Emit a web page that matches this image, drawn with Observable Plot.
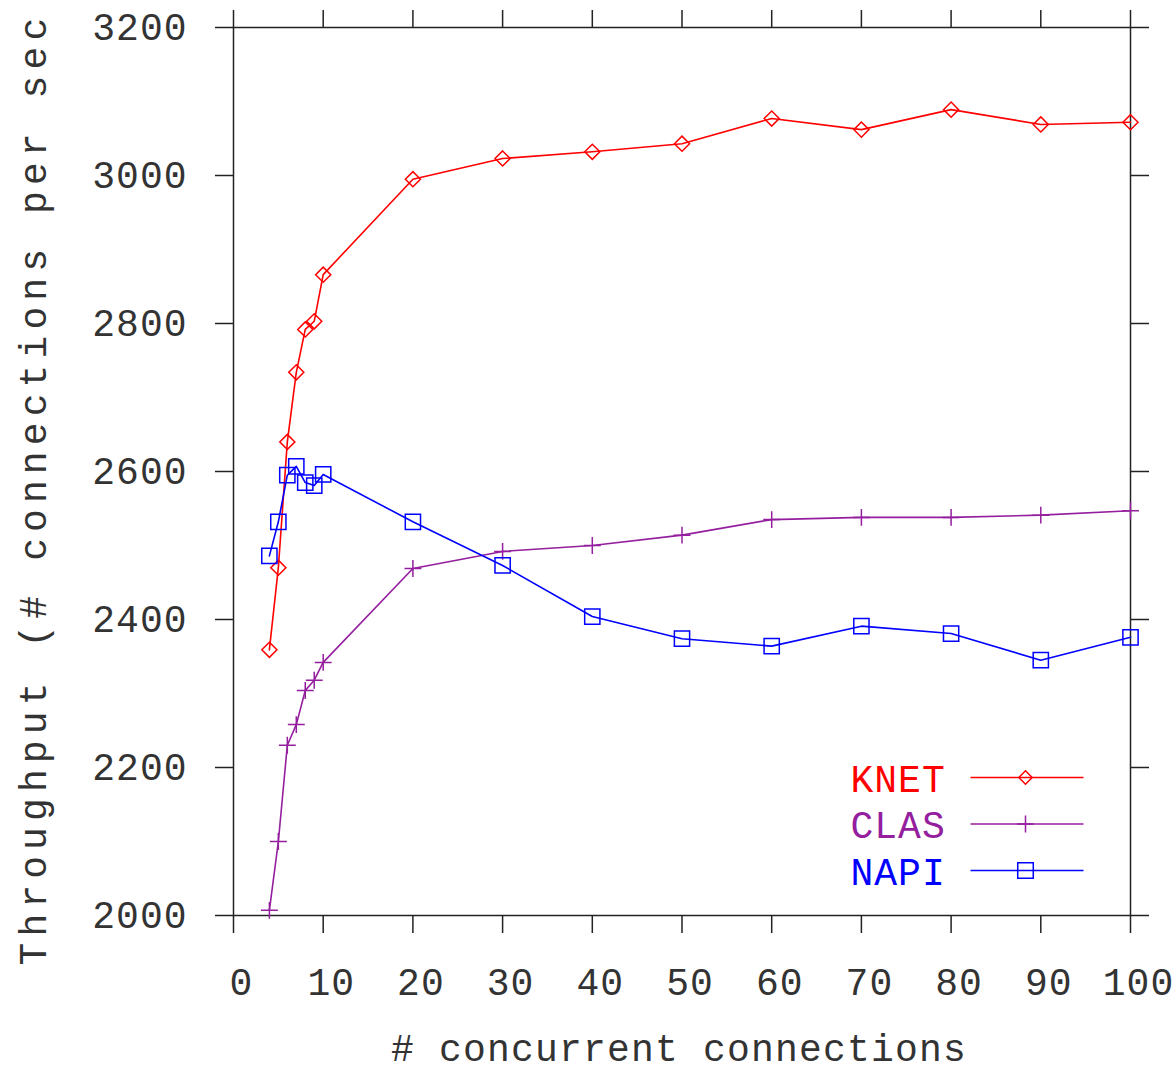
<!DOCTYPE html>
<html><head><meta charset="utf-8">
<script src="https://cdn.jsdelivr.net/npm/d3@7"></script>
<script src="https://cdn.jsdelivr.net/npm/@observablehq/plot@0.6"></script>
<style>
body{margin:0;background:#fff;}
#chart svg{display:block;}
</style></head><body><div id="chart"></div>
<script>
// ---- data ----
const connections = [4, 5, 6, 7, 8, 9, 10, 20, 30, 40, 50, 60, 70, 80, 90, 100];
const knet = [2359, 2470, 2640, 2734, 2792, 2803, 2866, 2995, 3023, 3032, 3043, 3077, 3062, 3089, 3069, 3072];
const clas = [2007, 2100, 2230, 2258, 2304, 2318, 2342, 2469, 2492, 2500, 2514, 2535, 2538, 2538, 2541, 2547];
const napi = [2486, 2532, 2595, 2607, 2585, 2581, 2596, 2532, 2473, 2404, 2374, 2364, 2391, 2381, 2345, 2376];
const seriesNames = ["KNET", "CLAS", "NAPI"];
const xTicks = [0, 10, 20, 30, 40, 50, 60, 70, 80, 90, 100];
const yTicks = [2000, 2200, 2400, 2600, 2800, 3000, 3200];
const xTitle = "# concurrent connections";
const yTitle = "Throughput (# connections per sec";

// ---- styles ----
const colors = {KNET: "#ff0000", CLAS: "#941e9e", NAPI: "#0000ff"};
const symbols = {KNET: "diamond2", CLAS: "plus", NAPI: "square2"};
const radii = {KNET: 6.8, CLAS: 5.5, NAPI: 9.7};
const legendRadii = {KNET: 6.0, CLAS: 5.5, NAPI: 9.9};
const ink = "#333";

const values = {KNET: knet, CLAS: clas, NAPI: napi};
const rows = seriesNames.flatMap(s => connections.map((c, i) => ({series: s, x: c, y: values[s][i]})));

// legend key line as a custom symbol (horizontal segment around the marker)
const keyLine = {draw(ctx) { ctx.moveTo(-55, 0); ctx.lineTo(58, 0); }};

const marks = [];
marks.push(Plot.frame({stroke: "#222", strokeWidth: 1.5}));
marks.push(Plot.axisY({anchor: "left", ticks: yTicks, tickFormat: d3.format("d"), tickSize: 18, tickPadding: 28, fontSize: 38, label: null, strokeWidth: 1.5, stroke: "#222", fill: ink}));
marks.push(Plot.axisY({anchor: "right", ticks: yTicks, tickSize: 18, tickFormat: () => "", label: null, strokeWidth: 1.5, stroke: "#222"}));
marks.push(Plot.axisX({anchor: "bottom", ticks: xTicks, tickSize: 18, tickFormat: () => "", label: null, strokeWidth: 1.5, stroke: "#222"}));
marks.push(Plot.axisX({anchor: "bottom", ticks: xTicks, tickFormat: d3.format("d"), tickSize: 0, tickPadding: 53, dx: 8, fontSize: 38, label: null, fill: ink}));
marks.push(Plot.axisX({anchor: "top", ticks: xTicks, tickSize: 18, tickFormat: () => "", label: null, strokeWidth: 1.5, stroke: "#222"}));

marks.push(Plot.text([xTitle], {frameAnchor: "bottom", dy: 133, dx: -3, fontSize: 38, fill: ink, lineAnchor: "middle"}));
marks.push(Plot.text([yTitle], {frameAnchor: "bottom-left", dx: -200, dy: 50, rotate: -90, textAnchor: "start", lineAnchor: "middle", fontSize: 38, fill: ink}));

seriesNames.forEach((s, k) => {
  const d = rows.filter(r => r.series === s);
  marks.push(Plot.line(d, {x: "x", y: "y", stroke: colors[s], strokeWidth: 1.6}));
  marks.push(Plot.dot(d, {x: "x", y: "y", symbol: symbols[s], r: radii[s], stroke: colors[s], fill: "none", strokeWidth: 1.5}));
  // legend row
  const dy = -136 + k * 46.5;
  marks.push(Plot.text([s], {frameAnchor: "bottom-right", dx: -280, dy, textAnchor: "start", lineAnchor: "middle", fontSize: 38, fill: colors[s]}));
  marks.push(Plot.dot([s], {frameAnchor: "bottom-right", dx: -105, dy: dy - 2, symbol: keyLine, stroke: colors[s], fill: "none", strokeWidth: 1.6}));
  marks.push(Plot.dot([s], {frameAnchor: "bottom-right", dx: -105, dy: dy - 2, symbol: symbols[s], r: legendRadii[s], stroke: colors[s], fill: "none", strokeWidth: 1.5}));
});

const chart = Plot.plot({
  width: 1174, height: 1072,
  marginLeft: 233, marginRight: 44, marginTop: 27, marginBottom: 157,
  style: {fontFamily: "'Liberation Mono', 'DejaVu Sans Mono', monospace", fontSize: "38px", background: "#fff", color: "#222"},
  x: {domain: [0, 100]},
  y: {domain: [2000, 3200]},
  marks
});
// typographic spacing, as in the reference
chart.querySelectorAll("text").forEach(t => {
  const s = t.textContent;
  if (s === yTitle) t.style.letterSpacing = "6.1px";
  else if (s === xTitle) t.style.letterSpacing = "1.2px";
  else t.style.letterSpacing = "1px";
});
document.getElementById("chart").append(chart);
</script></body></html>
